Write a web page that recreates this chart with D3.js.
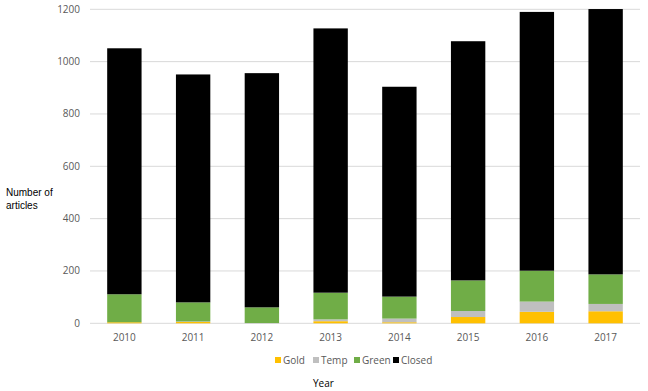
<!DOCTYPE html>
<html><head><meta charset="utf-8">
<script src="https://cdn.jsdelivr.net/npm/d3@7"></script>
<style>body{margin:0;background:#fff;} svg{display:block;font-family:"Open Sans",sans-serif;}</style>
</head><body><svg id="c" width="648" height="391"></svg>
<script>
const years = ["2010","2011","2012","2013","2014","2015","2016","2017"];
const gold   = [4, 5, 0, 8, 4, 24, 44, 46];
const temp   = [0, 2, 1, 7, 14, 23, 39, 28];
const green  = [107, 73, 60, 102, 84, 117, 118, 113];
const closed = [940, 871, 895, 1010, 802, 914, 989, 1014];
const seriesNames = ["Gold","Temp","Green","Closed"];
const colors = ["#FFC000","#BFBFBF","#70AD47","#000000"];
const yTicks = [0,200,400,600,800,1000,1200];

const svg = d3.select("#c");
const x = d3.scaleBand().domain(years).range([90,640]).paddingInner(0.5).paddingOuter(0.25);
const y = d3.scaleLinear().domain([0,1200]).range([323.3,9.3]);

svg.append("g").selectAll("line").data(yTicks).join("line")
  .attr("x1",90).attr("x2",640).attr("y1",d=>y(d)).attr("y2",d=>y(d))
  .attr("stroke","#D9D9D9").attr("stroke-width",1);

svg.append("g").selectAll("text").data(yTicks).join("text")
  .attr("x",80).attr("y",d=>y(d)).attr("dy","0.35em").attr("text-anchor","end")
  .attr("font-size",10).attr("fill","#595959").text(d=>d);

const rows = years.map((yr,i)=>({year:yr,Gold:gold[i],Temp:temp[i],Green:green[i],Closed:closed[i]}));
const stack = d3.stack().keys(seriesNames)(rows);
svg.append("g").selectAll("g").data(stack).join("g").attr("fill",(d,i)=>colors[i])
  .selectAll("rect").data(d=>d).join("rect")
  .attr("x",d=>x(d.data.year)).attr("width",x.bandwidth())
  .attr("y",d=>y(d[1])).attr("height",d=>y(d[0])-y(d[1]));

svg.append("g").selectAll("text").data(years).join("text")
  .attr("x",d=>x(d)+x.bandwidth()/2).attr("y",337).attr("dy","0.35em")
  .attr("text-anchor","middle").attr("font-size",10).attr("fill","#595959").text(d=>d);

const yt = svg.append("text").attr("font-family","Liberation Sans, Arial, sans-serif").attr("font-size",10).attr("fill","#000");
yt.append("tspan").attr("x",6).attr("y",196).text("Number of");
yt.append("tspan").attr("x",6).attr("y",209).text("articles");

const legX = [275,313,354,393];
const lg = svg.append("g").selectAll("g").data(seriesNames).join("g")
  .attr("transform",(d,i)=>`translate(${legX[i]},360)`);
lg.append("rect").attr("x",0).attr("y",-3).attr("width",6).attr("height",6).attr("fill",(d,i)=>colors[i]);
lg.append("text").attr("x",8).attr("y",0).attr("dy","0.35em").attr("font-size",10).attr("fill","#595959").text(d=>d);

svg.append("text").attr("x",313).attr("y",383).attr("dy","0.35em").attr("font-size",10).attr("fill","#000").text("Year");
</script></body></html>
